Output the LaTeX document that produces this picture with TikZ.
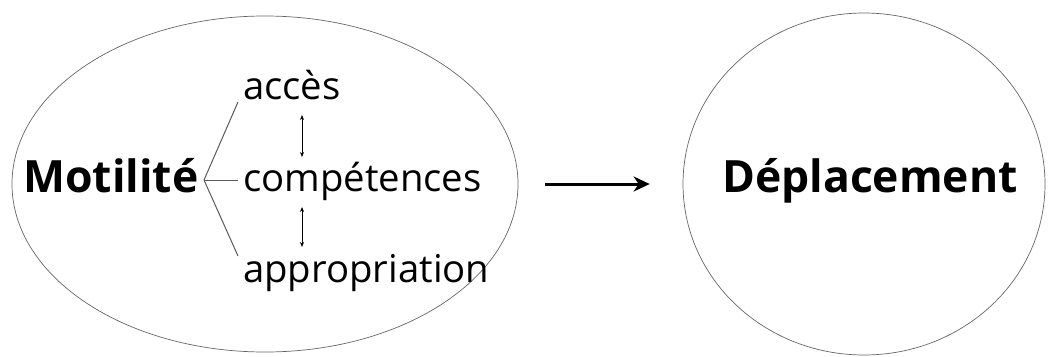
\documentclass[tikz,border=0pt]{standalone}
\usepackage{fontspec}
\setmainfont{Open Sans}
\usetikzlibrary{shapes.geometric}
\usetikzlibrary{arrows.meta}

\begin{document}
\begin{tikzpicture}[x=1pt,y=-1pt]
\tikzset{
  bulle/.style={draw=black!60, line width=0.7pt, ellipse, inner sep=0pt},
  titre/.style={font=\fontsize{44.5}{52}\selectfont\bfseries, inner sep=0pt, anchor=base west},
  terme/.style={font=\fontsize{38.3}{46}\selectfont, inner sep=0pt, anchor=base west},
  branche/.style={draw=black!65, line width=1pt},
  lien/.style={{Stealth[length=5pt,width=4pt]}-{Stealth[length=5pt,width=4pt]}, line width=0.8pt},
  fleche/.style={-{Stealth[length=16pt,width=15pt,inset=5pt]}, line width=3pt}
}
\useasboundingbox (0,0) rectangle (1054,356);

% les deux bulles
\node[bulle, minimum width=506pt, minimum height=336pt] (mot) at (265,184) {};
\node[bulle, minimum width=362pt, minimum height=342pt] (dep) at (864,184) {};

% textes
\node[titre] (motilite) at (23,192) {Motilité};
\node[terme] (acces) at (243,99) {accès};
\node[terme] (comp) at (243,191) {compétences};
\node[terme] (appr) at (243,282) {appropriation};
\node[titre] (deplacement) at (722,192) {Déplacement};

% fourche
\coordinate (fourche) at (204,180);
\draw[branche] (fourche) -- ([shift={(-5,3)}]acces.base west);
\draw[branche] (fourche) -- ([shift={(-5,-11)}]comp.base west);
\draw[branche] (fourche) -- ([shift={(-5,-26)}]appr.base west);

% liens entre termes
\draw[lien] ([shift={(59,16)}]acces.base west) -- ([shift={(59,-34)}]comp.base west);
\draw[lien] ([shift={(59,16)}]comp.base west) -- ([shift={(59,-35)}]appr.base west);

% motilite vers deplacement
\draw[fleche] ([xshift=27pt]mot.east) -- ([xshift=-33pt]dep.west);
\end{tikzpicture}
\end{document}
